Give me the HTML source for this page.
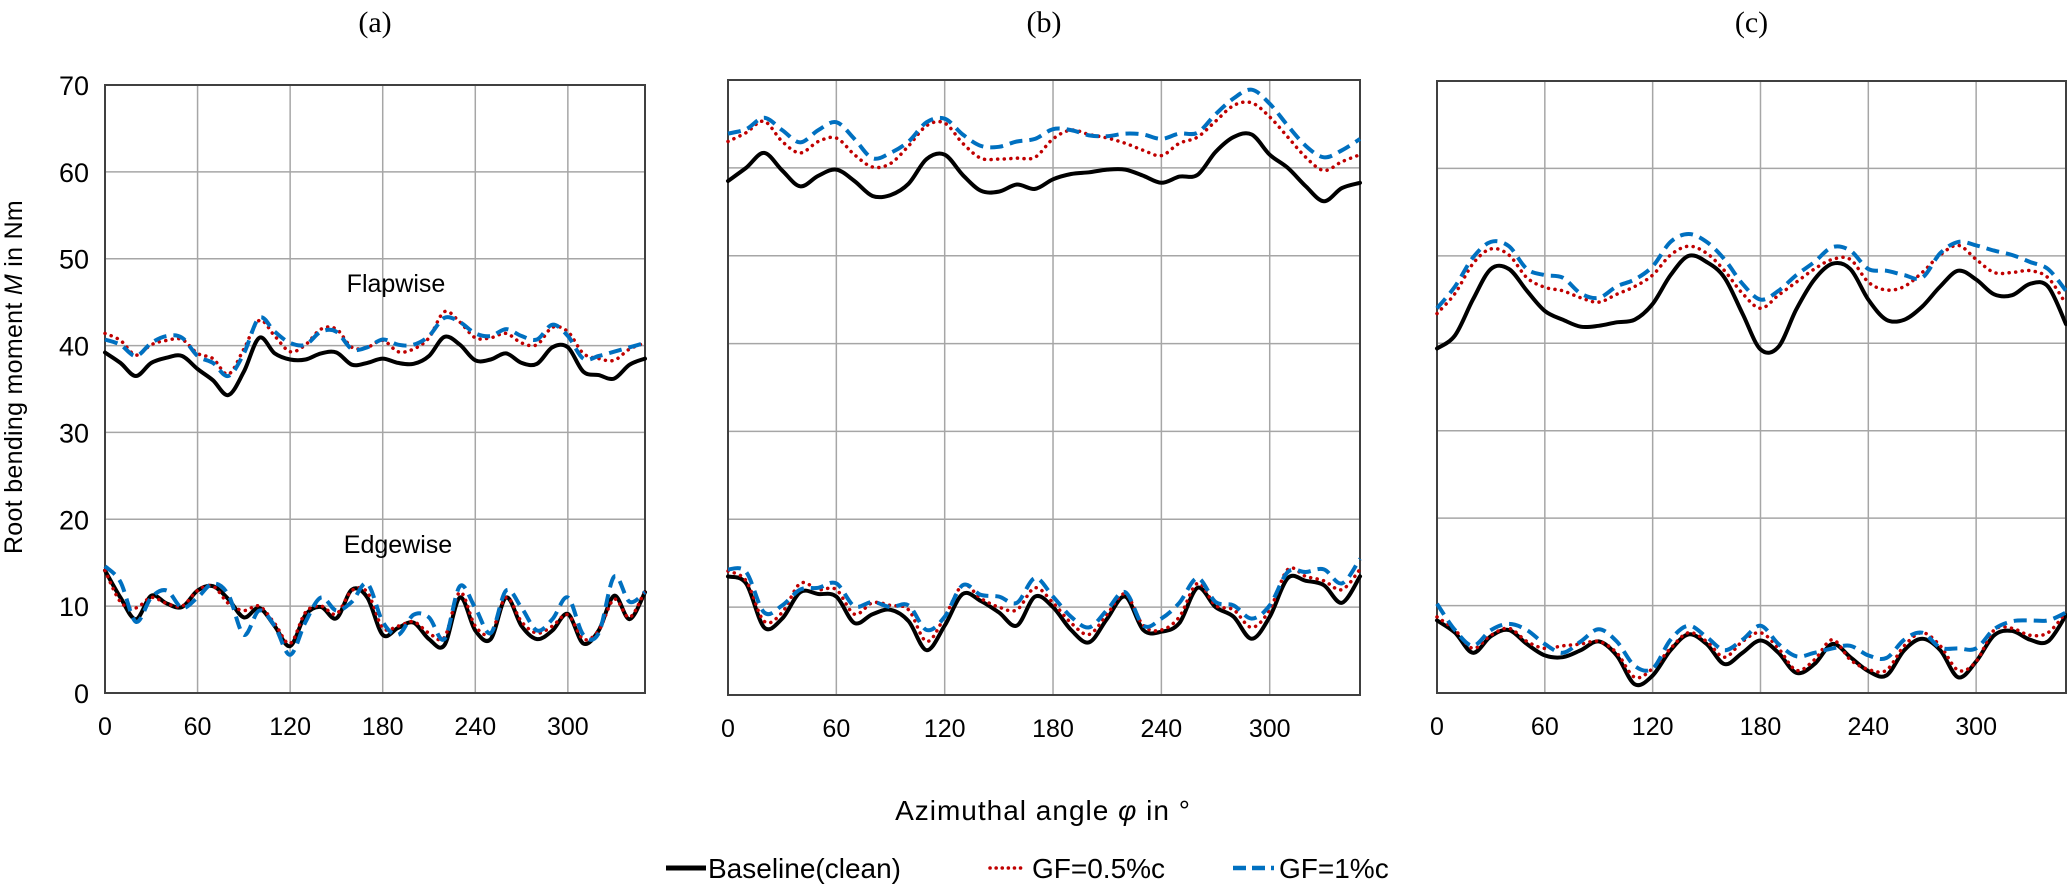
<!DOCTYPE html>
<html><head><meta charset="utf-8">
<style>
html,body{margin:0;padding:0;background:#fff;}
svg{display:block;}
text{font-family:"Liberation Sans","DejaVu Sans",sans-serif;fill:#000;}
</style></head>
<body>
<svg id="chart" width="2067" height="887" viewBox="0 0 2067 887" xmlns="http://www.w3.org/2000/svg">
<text transform="translate(22,377) rotate(-90)" text-anchor="middle" font-size="25" style="letter-spacing:0.3px">Root bending moment <tspan font-style="italic">M</tspan> in Nm</text>
<text x="1043" y="820" text-anchor="middle" font-size="28" style="letter-spacing:1px">Azimuthal angle <tspan font-style="italic">φ</tspan> in °</text>
<g>
<g><line x1="666" y1="868" x2="706" y2="868" stroke="#000" stroke-width="5"/><text x="708" y="878" font-size="28">Baseline(clean)</text></g>
<g><line x1="990" y1="868" x2="1026" y2="868" stroke="#c00000" stroke-width="3.5" stroke-dasharray="0.1 6" stroke-linecap="round"/><text x="1032" y="878" font-size="28">GF=0.5%c</text></g>
<g><line x1="1233" y1="868" x2="1274" y2="868" stroke="#0070c0" stroke-width="4.5" stroke-dasharray="13 6"/><text x="1279" y="878" font-size="28">GF=1%c</text></g>
</g>
<g id="plots"></g>
</svg>
<script>
// ----- data (values in Nm at azimuth 0,10,...,350 deg) -----
const angles = [0,10,20,30,40,50,60,70,80,90,100,110,120,130,140,150,160,170,180,190,200,210,220,230,240,250,260,270,280,290,300,310,320,330,340,350];
const xTicks = [0,60,120,180,240,300];
const yTicks = [0,10,20,30,40,50,60,70];
const panelTitles = ["(a)","(b)","(c)"];

const aFlapBase = [39.2,38.0,36.5,38.0,38.6,38.8,37.3,36.0,34.3,37.0,40.9,39.1,38.4,38.4,39.1,39.2,37.8,38.0,38.5,38.0,37.9,38.8,41.0,40.1,38.3,38.4,39.1,38.0,37.9,39.8,39.8,37.0,36.6,36.2,37.8,38.5];
const aFlapGF05 = [41.4,40.6,38.9,40.1,40.6,40.7,39.1,38.5,36.7,39.6,42.9,41.1,39.3,40.1,41.9,41.9,39.8,39.8,40.6,39.3,39.6,40.9,43.9,42.7,40.9,40.9,41.4,40.3,40.1,42.1,41.6,39.1,38.5,38.3,39.6,40.3];
const aFlapGF1 = [40.7,40.1,38.8,40.3,41.1,40.9,38.8,38.0,36.5,39.1,43.2,41.6,40.3,40.1,41.6,41.6,39.6,39.8,40.7,40.1,40.1,41.1,43.2,42.7,41.4,41.1,41.9,41.1,40.7,42.4,41.1,38.5,38.8,39.3,39.8,40.3];
const aEdgeBase = [14.1,11.0,8.5,11.2,10.3,9.9,11.8,12.3,10.8,8.7,9.8,7.7,5.4,9.0,9.9,8.6,11.9,11.0,6.7,7.5,8.1,6.2,5.5,11.0,7.2,6.2,11.0,7.7,6.2,7.2,9.1,5.7,7.2,11.2,8.5,11.6];
const aEdgeGF05 = [14.1,10.5,9.8,11.0,10.3,10.0,11.8,12.3,10.3,9.5,10.0,8.0,5.7,9.3,10.0,9.1,11.8,11.6,7.5,7.7,8.2,6.9,6.4,11.6,7.7,6.9,11.0,8.2,6.9,7.7,9.0,6.2,7.2,10.8,8.7,11.8];
const aEdgeGF1 = [14.6,12.8,8.2,11.0,11.8,9.8,11.0,12.6,11.3,6.7,9.5,7.7,4.4,8.2,11.0,9.5,10.5,12.6,8.2,6.7,9.0,8.7,6.2,12.3,9.8,6.9,11.8,9.8,7.2,8.5,11.0,6.7,6.9,13.4,10.5,11.6];

const bFlapBase = [58.5,60.0,61.7,59.7,57.9,59.1,59.8,58.5,56.8,56.9,58.2,61.0,61.5,59.2,57.4,57.3,58.1,57.6,58.7,59.3,59.5,59.8,59.8,59.1,58.3,59.0,59.2,61.8,63.5,63.8,61.5,60.0,57.9,56.2,57.7,58.3];
const bFlapGF05 = [63.0,64.0,65.3,63.0,61.7,63.0,63.4,61.5,60.1,60.5,62.5,64.8,65.1,62.8,61.1,61.0,61.1,61.2,63.3,64.3,63.8,63.4,62.8,62.0,61.4,62.8,63.5,65.3,67.1,67.4,65.8,63.5,61.2,59.7,60.7,61.5];
const bFlapGF1 = [63.9,64.4,65.7,64.3,62.9,64.3,65.2,63.3,61.1,61.7,63.0,65.2,65.6,63.8,62.5,62.4,63.0,63.3,64.4,64.3,63.7,63.6,63.9,63.8,63.3,63.9,64.0,66.1,67.9,68.9,67.3,64.8,62.5,61.2,62.0,63.3];
const bEdgeBase = [13.5,12.7,7.7,8.7,11.7,11.5,11.2,8.2,9.2,9.7,8.4,5.1,7.9,11.5,10.7,9.4,7.9,11.2,10.0,7.4,6.0,8.7,11.2,7.4,7.2,8.2,12.2,10.0,8.9,6.4,8.9,13.3,13.0,12.5,10.5,13.5];
const bEdgeGF05 = [14.1,13.0,8.4,9.4,12.7,12.0,12.0,9.2,10.5,10.2,9.7,6.1,8.9,12.5,11.0,10.0,9.7,12.2,10.5,8.2,6.9,9.2,11.5,7.9,7.4,8.9,12.7,10.2,9.7,7.7,9.7,14.3,13.5,13.0,12.0,14.3];
const bEdgeGF1 = [14.3,14.0,9.4,10.2,12.0,12.2,12.7,10.1,10.6,10.0,10.2,7.4,8.9,12.5,11.4,11.2,10.5,13.3,11.2,8.9,7.7,9.7,11.7,7.9,8.7,10.5,13.3,10.6,10.2,8.7,10.2,14.0,14.0,14.3,12.7,15.5];

const cFlapBase = [39.4,40.9,45.0,48.5,48.5,46.0,43.7,42.7,41.9,42.0,42.4,42.7,44.5,47.8,50.0,49.3,47.5,43.4,39.3,39.6,43.9,47.3,49.1,48.5,45.0,42.7,42.7,44.2,46.5,48.3,47.3,45.6,45.5,46.8,46.5,42.2];
const cFlapGF05 = [43.4,45.7,49.1,50.8,50.1,47.5,46.4,46.0,45.2,44.7,45.6,46.5,47.8,50.1,51.1,50.3,48.3,45.7,44.0,45.5,47.0,48.5,49.6,49.6,47.0,46.1,46.5,48.1,50.1,51.2,49.6,48.1,48.1,48.3,47.5,44.5];
const cFlapGF1 = [44.0,46.5,49.8,51.6,51.1,48.5,47.8,47.5,45.7,45.2,46.5,47.3,48.8,51.6,52.5,51.6,49.6,46.8,45.0,46.0,47.8,49.3,51.0,50.6,48.5,48.3,47.8,47.5,50.3,51.6,51.2,50.6,50.1,49.3,48.5,46.0];
const cEdgeBase = [8.3,6.9,4.6,6.5,7.2,5.6,4.3,4.1,4.9,5.9,4.3,1.0,2.0,4.9,6.7,5.6,3.3,4.6,6.0,4.6,2.3,3.3,5.6,4.1,2.5,2.0,4.9,6.2,4.9,1.8,3.6,6.6,7.1,6.1,5.9,8.9];
const cEdgeGF05 = [8.7,7.2,5.1,6.6,7.4,5.9,5.1,5.4,5.6,5.9,4.6,1.8,2.8,5.1,6.9,5.9,4.1,5.9,6.9,5.1,2.6,3.8,6.1,3.8,2.7,2.6,5.4,6.9,5.4,2.6,3.6,7.2,7.4,6.6,6.9,9.2];
const cEdgeGF1 = [10.2,7.2,5.4,7.2,7.9,7.2,5.6,4.6,5.9,7.3,5.9,3.1,2.8,6.1,7.7,6.4,4.9,6.1,7.7,5.6,4.2,4.6,5.1,5.4,4.3,4.0,6.1,6.9,5.2,5.1,5.1,7.3,8.2,8.3,8.3,9.2];

// ----- layout -----
const panels = [
 {id:"a", L:105, R:645, T:85, B:693, yLabels:true, series:[aFlapBase,aFlapGF05,aFlapGF1,aEdgeBase,aEdgeGF05,aEdgeGF1]},
 {id:"b", L:728, R:1360, T:80, B:695, yLabels:false, series:[bFlapBase,bFlapGF05,bFlapGF1,bEdgeBase,bEdgeGF05,bEdgeGF1]},
 {id:"c", L:1437, R:2066, T:81, B:693, yLabels:false, series:[cFlapBase,cFlapGF05,cFlapGF1,cEdgeBase,cEdgeGF05,cEdgeGF1]}
];
const styles = [
 {stroke:"#000000", w:4, dash:null, cap:"round", name:"baseline"},
 {stroke:"#c00000", w:3.5, dash:"0.1 6.5", cap:"round", name:"gf-0-5"},
 {stroke:"#0070c0", w:4, dash:"13 7", cap:"butt", name:"gf-1"}
];
const NS = "http://www.w3.org/2000/svg";
const root = document.getElementById("plots");
function mk(tag, attrs, parent){ const e=document.createElementNS(NS,tag); for(const k in attrs) e.setAttribute(k,attrs[k]); parent.appendChild(e); return e; }

function smoothPath(pts){
  let d = "M"+pts[0][0].toFixed(1)+","+pts[0][1].toFixed(1);
  for(let i=0;i<pts.length-1;i++){
    const p0=pts[Math.max(0,i-1)], p1=pts[i], p2=pts[i+1], p3=pts[Math.min(pts.length-1,i+2)];
    const c1x=p1[0]+(p2[0]-p0[0])/6, c1y=p1[1]+(p2[1]-p0[1])/6;
    const c2x=p2[0]-(p3[0]-p1[0])/6, c2y=p2[1]-(p3[1]-p1[1])/6;
    d+=" C"+c1x.toFixed(1)+","+c1y.toFixed(1)+" "+c2x.toFixed(1)+","+c2y.toFixed(1)+" "+p2[0].toFixed(1)+","+p2[1].toFixed(1);
  }
  return d;
}

panels.forEach((p, pi) => {
  const xs = v => p.L + (v/350)*(p.R-p.L);
  const ys = v => p.B - (v/70)*(p.B-p.T);
  const g = mk("g", {}, root);
  
  

  const t = mk("text", {x:(p.L+p.R)/2, y:32, "text-anchor":"middle", "font-size":30, style:"font-family:'Liberation Serif',serif"}, g);
  t.textContent = panelTitles[pi];
  
  

  yTicks.forEach(v => {
    const gl = mk("line", {x1:p.L, x2:p.R, y1:ys(v), y2:ys(v), stroke:"#a6a6a6", "stroke-width":1.5}, g);
    
    
    if(p.yLabels){
      const tl = mk("text", {x:p.L-16, y:ys(v)+10, "text-anchor":"end", "font-size":27}, g);
      tl.textContent = v;
      
      
    }
  });
  xTicks.forEach(v => {
    const gl = mk("line", {x1:xs(v), x2:xs(v), y1:p.T, y2:p.B, stroke:"#a6a6a6", "stroke-width":1.5}, g);
    
    
    const tl = mk("text", {x:xs(v), y:p.B+42, "text-anchor":"middle", "font-size":25}, g);
    tl.textContent = v;
    
    
  });
  const fr = mk("rect", {x:p.L, y:p.T, width:p.R-p.L, height:p.B-p.T, fill:"none", stroke:"#404040", "stroke-width":2}, g);
  
  

  if(p.id==="a"){
    const f = mk("text", {x:396, y:292, "text-anchor":"middle", "font-size":25, fill:"#000"}, g);
    f.textContent = "Flapwise";
    
    
    const e = mk("text", {x:398, y:553, "text-anchor":"middle", "font-size":25}, g);
    e.textContent = "Edgewise";
    
    
  }

  p.series.forEach((vals, si) => {
    const st = styles[si%3];
    const pts = angles.map((a,i)=>[xs(a), ys(vals[i])]);
    const attrs = {d:smoothPath(pts), fill:"none", stroke:st.stroke, "stroke-width":st.w, "stroke-linecap":st.cap, "stroke-linejoin":"round"};
    if(st.dash) attrs["stroke-dasharray"]=st.dash;
    const path = mk("path", attrs, g);
    
    
  });
});
</script>
</body></html>
